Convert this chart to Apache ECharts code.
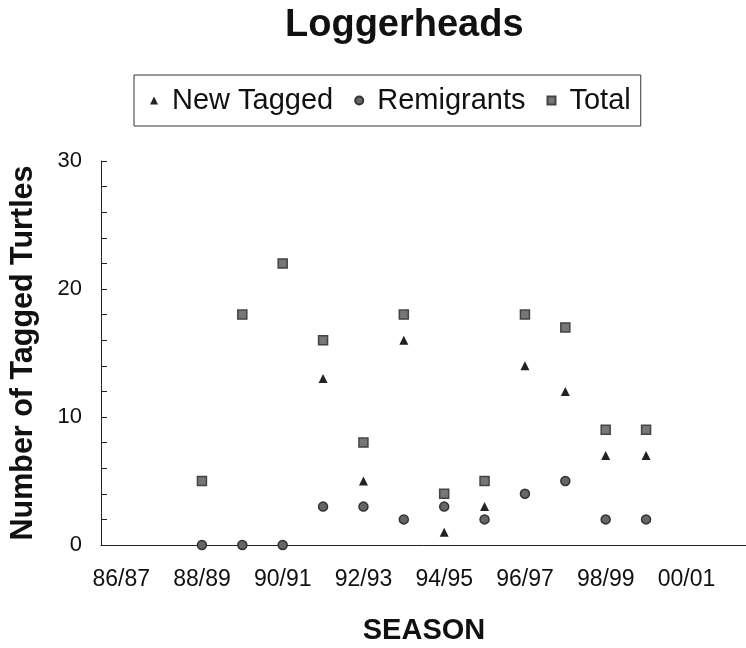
<!DOCTYPE html>
<html>
<head>
<meta charset="utf-8">
<script src="https://cdn.jsdelivr.net/npm/echarts@6/dist/echarts.min.js"></script>
<style>
  html, body { margin: 0; padding: 0; background: #fff; }
  #chart { width: 746px; height: 648px; }
</style>
</head>
<body>
<div id="chart"></div>
<script>
// 季节（每个类别一个刻度间隔）
const seasons = ['86/87', '87/88', '88/89', '89/90', '90/91', '91/92', '92/93', '93/94',
  '94/95', '95/96', '96/97', '97/98', '98/99', '99/00', '00/01', '01/02'];

// 各系列数值（null 表示无数据）
const newTagged = [null, null, 5, 18, 22, 13, 5, 16, 1, 3, 14, 12, 7, 7, null, null];
const remigrants = [null, null, 0, 0, 0, 3, 3, 2, 3, 2, 4, 5, 2, 2, null, null];
const total = [null, null, 5, 18, 22, 16, 8, 18, 4, 5, 18, 17, 9, 9, null, null];

const FONT = '"Liberation Sans", Arial, sans-serif';

const chart = echarts.init(document.getElementById('chart'), null, { renderer: 'canvas' });

chart.setOption({
  animation: false,
  backgroundColor: '#fff',
  title: {
    text: 'Loggerheads',
    left: 285,
    top: 7,
    padding: 0,
    textStyle: { fontFamily: FONT, fontSize: 38, fontWeight: 'bold', color: '#111' }
  },
  legend: {
    left: 134,
    top: 75,
    padding: [11, 10, 11, 16],
    borderColor: '#333',
    borderWidth: 1,
    itemWidth: 8,
    itemHeight: 8,
    itemGap: 21,
    textStyle: { fontFamily: FONT, fontSize: 29, color: '#111', padding: [0, 0, 0, 9] },
    data: [
      { name: 'New Tagged', icon: 'triangle' },
      { name: 'Remigrants', icon: 'circle' },
      { name: 'Total', icon: 'rect' }
    ]
  },
  grid: { left: 101, right: -1, top: 161, bottom: 103, outerBoundsMode: 'none' },
  xAxis: {
    type: 'category',
    data: seasons,
    boundaryGap: true,
    name: 'SEASON',
    nameLocation: 'middle',
    nameGap: 71,
    nameTextStyle: { fontFamily: FONT, fontSize: 29, fontWeight: 'bold', color: '#111' },
    axisLine: { lineStyle: { color: '#222', width: 1 } },
    axisTick: { inside: true, length: 6, interval: 0, lineStyle: { color: '#222' } },
    axisLabel: { interval: 1, margin: 23, fontFamily: FONT, fontSize: 23, color: '#111' },
    splitLine: { show: false }
  },
  yAxis: {
    type: 'value',
    min: 0,
    max: 30,
    interval: 10,
    name: 'Number of Tagged Turtles',
    nameLocation: 'middle',
    nameGap: 62,
    nameTextStyle: { fontFamily: FONT, fontSize: 30.5, fontWeight: 'bold', color: '#111' },
    axisLine: { show: true, lineStyle: { color: '#222', width: 1 } },
    axisTick: { show: true, inside: true, length: 6, lineStyle: { color: '#222' } },
    minorTick: { show: true, splitNumber: 5, length: 6, lineStyle: { color: '#222' } },
    axisLabel: { margin: 19, fontFamily: FONT, fontSize: 22, color: '#111' },
    splitLine: { show: false }
  },
  series: [
    {
      name: 'New Tagged',
      type: 'scatter',
      symbol: 'triangle',
      symbolSize: 9,
      z: 2,
      data: newTagged,
      itemStyle: { color: '#222', opacity: 1 }
    },
    {
      name: 'Remigrants',
      type: 'scatter',
      symbol: 'circle',
      symbolSize: 9,
      z: 3,
      data: remigrants,
      itemStyle: { color: '#666', borderColor: '#333', borderWidth: 1.5, opacity: 1 }
    },
    {
      name: 'Total',
      type: 'scatter',
      symbol: 'rect',
      symbolSize: 9,
      z: 4,
      data: total,
      itemStyle: { color: '#777', borderColor: '#444', borderWidth: 1.5, opacity: 1 }
    }
  ]
});
</script>
</body>
</html>
